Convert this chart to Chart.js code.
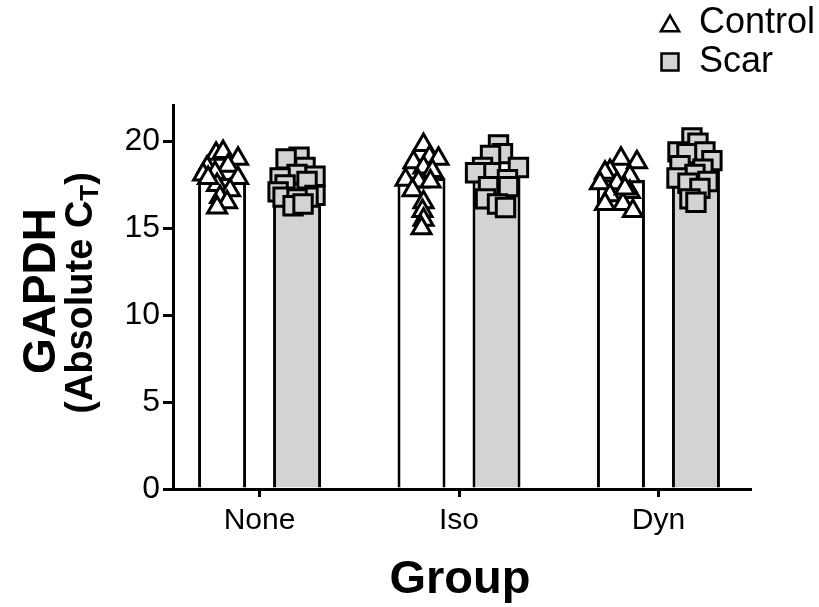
<!DOCTYPE html>
<html>
<head>
<meta charset="utf-8">
<script src="https://cdn.jsdelivr.net/npm/chart.js@4.4.1/dist/chart.umd.min.js"></script>
<style>
  body { margin: 0; background: #fff; }
  #wrap { width: 819px; height: 607px; }
</style>
</head>
<body>
<div id="wrap"><canvas id="chart"></canvas></div>
<script>
const groups = ["None", "Iso", "Dyn"];
const seriesNames = ["Control", "Scar"];
const controlMeans = [17.9, 17.9, 17.8];
const scarMeans = [17.3, 17.9, 18.3];
const yTicks = [0, 5, 10, 15, 20];

// individual values per group, with the sideways spread used in the plot
const noneControl = [19.3, 19.4, 19.0, 18.5, 18.6, 18.1, 18.2, 17.9, 17.5, 17.2, 16.8, 16.5, 16.2, 17.9];
const noneControlJit = [-0.03, 0.005, 0.08, -0.075, 0.03, -0.095, -0.035, 0.08, -0.025, 0.04, -0.01, 0.025, -0.025, -0.07];
const noneScar = [19.1, 19.0, 18.5, 18.1, 18.0, 17.9, 17.7, 17.5, 17.1, 16.9, 16.8, 16.8, 16.7, 16.3, 16.4];
const noneScarJit = [0.01, -0.055, 0.04, 0, 0.09, -0.085, 0.05, -0.06, -0.095, 0.09, 0.055, -0.07, 0, -0.02, 0.03];
const isoControl = [19.8, 19.1, 19.0, 18.8, 18.5, 18.3, 17.8, 17.7, 17.7, 17.2, 16.5, 16.0, 15.5, 15.0];
const isoControlJit = [0.01, 0.04, 0.085, -0.04, 0.01, 0.055, -0.08, -0.015, 0.045, -0.045, 0.01, 0.005, 0.01, 0];
const isoScar = [19.8, 19.3, 19.2, 18.5, 18.5, 18.2, 18.2, 17.8, 17.4, 17.4, 16.7, 16.4, 16.2];
const isoScarJit = [0.01, 0.03, -0.03, -0.07, 0.11, -0.03, -0.105, 0.055, -0.04, 0.06, -0.055, 0.005, 0.045];
const dynControl = [19.0, 18.8, 18.3, 18.2, 18.0, 17.6, 17.6, 16.9, 17.1, 16.4, 16.4, 16.0, 17.3];
const dynControlJit = [0, 0.08, -0.055, -0.08, 0.045, -0.105, -0.02, -0.055, 0.045, -0.08, 0.01, 0.06, 0.02];
const dynScar = [20.2, 19.9, 19.4, 19.3, 19.4, 18.9, 18.6, 18.4, 18.1, 17.9, 17.6, 17.7, 17.3, 16.7, 16.5];
const dynScarJit = [-0.02, 0.01, -0.09, -0.045, 0.045, 0.08, -0.08, 0.035, -0.005, -0.095, -0.04, 0.06, 0.02, -0.03, 0];

const controlPts = [[noneControl, noneControlJit], [isoControl, isoControlJit], [dynControl, dynControlJit]];
const scarPts = [[noneScar, noneScarJit], [isoScar, isoScarJit], [dynScar, dynScarJit]];

const SHIFT = 0.188; // half the distance between the two bars of a group

function toPoints(sets, side) {
  const out = [];
  sets.forEach(([vals, jit], g) => {
    vals.forEach((v, i) => out.push({ x: g + side * SHIFT + jit[i], y: v }));
  });
  return out;
}

const FONT = "'Liberation Sans', Arial, sans-serif";

// axis titles + legend drawn on the canvas
const extras = {
  id: "extras",
  afterDraw(chart) {
    const ctx = chart.ctx;
    ctx.save();
    ctx.fillStyle = "#000";

    ctx.font = "bold 47px " + FONT;
    ctx.textAlign = "center";
    ctx.textBaseline = "middle";
    ctx.fillText("Group", 460, 580);

    ctx.save();
    ctx.translate(42, 291);
    ctx.rotate(-Math.PI / 2);
    ctx.font = "bold 46px " + FONT;
    ctx.fillText("GAPDH", 0, 0);
    ctx.restore();

    // (Absolute C_T)
    ctx.save();
    ctx.translate(82, 293);
    ctx.rotate(-Math.PI / 2);
    const big = "bold 38px " + FONT, small = "bold 26px " + FONT;
    ctx.font = big;
    const w1 = ctx.measureText("(Absolute C").width;
    const w3 = ctx.measureText(")").width;
    ctx.font = small;
    const w2 = ctx.measureText("T").width;
    let x = -(w1 + w2 + w3) / 2;
    ctx.textAlign = "left";
    ctx.font = big;
    ctx.fillText("(Absolute C", x, 0);
    x += w1;
    ctx.font = small;
    ctx.fillText("T", x, 9);
    x += w2;
    ctx.font = big;
    ctx.fillText(")", x, 0);
    ctx.restore();

    // legend
    const marks = [
      { style: "triangle", bg: "#fff", y: 23 },
      { style: "rect", bg: "#d3d3d3", y: 62 }
    ];
    marks.forEach((m, i) => {
      ctx.lineWidth = 2.5;
      ctx.strokeStyle = "#000";
      ctx.fillStyle = m.bg;
      Chart.helpers.drawPoint(ctx, { pointStyle: m.style, radius: m.style === "rect" ? 12 : 10.5, rotation: 0, borderWidth: 2.5 }, 670, m.y + (m.style === "triangle" ? 3 : 0));
      ctx.fillStyle = "#000";
      ctx.font = "36px " + FONT;
      ctx.textAlign = "left";
      ctx.textBaseline = "middle";
      ctx.fillText(seriesNames[i], 699, m.y);
    });
    ctx.restore();
  }
};

new Chart(document.getElementById("chart"), {
  type: "bar",
  data: {
    datasets: [
      {
        type: "scatter",
        label: seriesNames[0] + " points",
        data: toPoints(controlPts, -1),
        pointStyle: "triangle",
        pointRadius: 11,
        backgroundColor: "#fff",
        borderColor: "#000",
        borderWidth: 3,
        order: 0,
        clip: false
      },
      {
        type: "scatter",
        label: seriesNames[1] + " points",
        data: toPoints(scarPts, 1),
        pointStyle: "rect",
        pointRadius: 13,
        backgroundColor: "#d3d3d3",
        borderColor: "#000",
        borderWidth: 3,
        order: 0,
        clip: false
      },
      {
        label: seriesNames[0],
        data: controlMeans.map((v, i) => ({ x: i, y: v })),
        backgroundColor: "#fff",
        borderColor: "#000",
        borderWidth: 3,
        categoryPercentage: 0.752,
        barPercentage: 0.64,
        order: 1
      },
      {
        label: seriesNames[1],
        data: scarMeans.map((v, i) => ({ x: i, y: v })),
        backgroundColor: "#d3d3d3",
        borderColor: "#000",
        borderWidth: 3,
        categoryPercentage: 0.752,
        barPercentage: 0.64,
        order: 1
      }
    ]
  },
  options: {
    responsive: true,
    maintainAspectRatio: false,
    animation: false,
    layout: { padding: { top: 105, right: 69, left: 0, bottom: 0 } },
    plugins: { legend: { display: false }, tooltip: { enabled: false } },
    scales: {
      x: {
        type: "linear",
        offset: false,
        min: -0.434,
        max: 2.459,
        afterBuildTicks: (s) => { s.ticks = groups.map((g, i) => ({ value: i })); },
        afterFit: (s) => { s.height = 118; },
        ticks: {
          callback: (v) => groups[v],
          color: "#000",
          font: { family: FONT, size: 30 },
          padding: 6,
          maxRotation: 0
        },
        grid: { display: true, offset: false, drawOnChartArea: false, drawTicks: true, tickLength: 8, lineWidth: 3, color: "#000" },
        border: { display: true, color: "#000", width: 3 }
      },
      y: {
        min: 0,
        max: 22.1,
        afterBuildTicks: (s) => { s.ticks = yTicks.map((v) => ({ value: v })); },
        afterFit: (s) => { s.width = 173; },
        ticks: {
          color: "#000",
          font: { family: FONT, size: 32 },
          padding: 3
        },
        grid: { display: true, drawOnChartArea: false, drawTicks: true, tickLength: 10, lineWidth: 3, color: "#000" },
        border: { display: true, color: "#000", width: 3 }
      }
    }
  },
  plugins: [extras]
});
</script>
</body>
</html>
